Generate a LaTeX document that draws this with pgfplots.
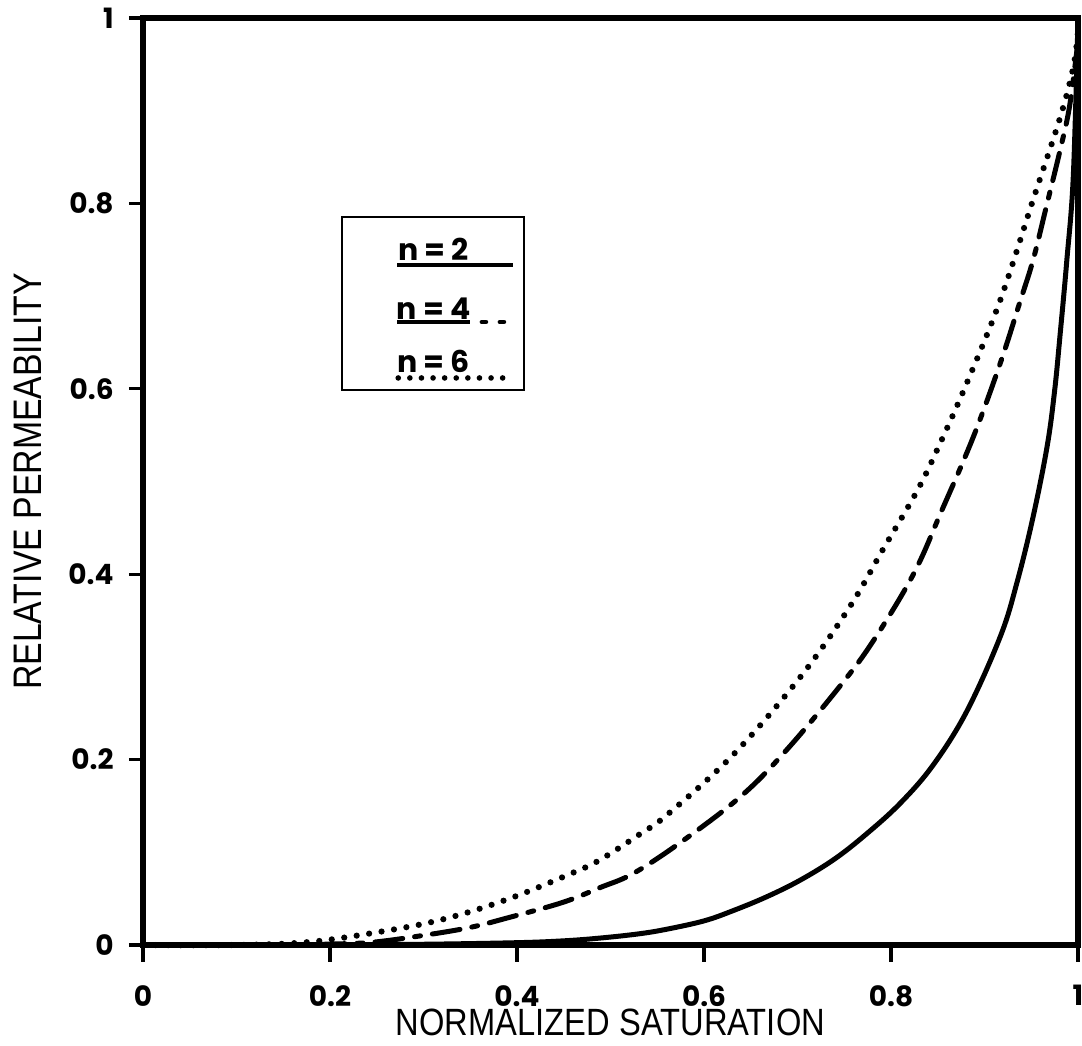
\documentclass[border=0pt]{standalone}
\usepackage{fontspec}
\setmainfont{Liberation Sans}
\newfontfamily\tickfont{Poppins}
\usepackage{pgfplots}
\pgfplotsset{compat=1.18}
\usetikzlibrary{calc}

\begin{document}
\begin{tikzpicture}
\begin{axis}[
  scale only axis, width=467.5pt, height=463.5pt,
  xmin=0, xmax=1, ymin=0, ymax=1,
  clip=false,
  xtick={0,0.2,0.4,0.6,0.8,1}, xticklabels={0,0.2,0.4,0.6,0.8,1},
  ytick={0,0.2,0.4,0.6,0.8,1}, yticklabels={0,0.2,0.4,0.6,0.8,1},
  tick align=outside, tick pos=left,
  major tick length=7pt,
  every major tick/.append style={line width=1.6pt, draw=black},
  axis line style={line width=3pt},
  /pgf/number format/assume math mode=true,
  tick label style={font=\tickfont\bfseries\fontsize{14}{14}\selectfont},
  xticklabel style={inner sep=0pt, anchor=north, yshift=-13pt},
  yticklabel style={inner sep=0pt, anchor=east, xshift=-7.5pt},
  every axis x label/.style={at={([yshift=-32pt]axis description cs:0.5,0)}, anchor=north, inner sep=0pt},
  every axis y label/.style={at={([xshift=-50.5pt]axis description cs:0,0.5)}, anchor=south, rotate=90, inner sep=0pt},
  xlabel={\fontsize{19}{19}\selectfont\scalebox{0.86}[1]{NORMALIZED SATURATION}},
  ylabel={\fontsize{19.9}{20}\selectfont\scalebox{0.85}[1]{RELATIVE PERMEABILITY}},
]
% n = 2
\addplot[black, line width=2.5pt, smooth, tension=0.6] coordinates {
(0,0)(0.1,0)(0.2,0.0002)(0.3,0.0008)(0.4,0.0025)(0.45,0.0045)(0.489,0.0075)(0.53,0.012)(0.56,0.017)(0.6,0.026)(0.631,0.037)(0.667,0.052)(0.703,0.070)(0.74,0.093)(0.774,0.120)(0.81,0.153)(0.845,0.194)(0.881,0.252)(0.917,0.333)(0.935,0.392)(0.952,0.462)(0.967,0.538)(0.975,0.598)(0.981,0.660)(0.988,0.738)(0.995,0.830)(1,1)
};
% n = 4
\addplot[black, line width=2.5pt, line cap=round, dash pattern=on 14pt off 6pt on 3pt off 6pt, smooth, tension=0.6] coordinates {
(0,0)(0.15,0)(0.2,0.001)(0.246,0.003)(0.304,0.011)(0.35,0.019)(0.389,0.029)(0.449,0.046)(0.489,0.062)(0.524,0.077)(0.574,0.110)(0.639,0.160)(0.688,0.210)(0.746,0.280)(0.781,0.328)(0.824,0.400)(0.854,0.468)(0.888,0.548)(0.917,0.628)(0.938,0.694)(0.952,0.739)(0.966,0.796)(0.981,0.858)(0.991,0.905)(1,0.975)
};
% n = 6
\addplot[black, line width=3.1pt, line cap=round, dash pattern=on 0pt off 6.3pt, smooth, tension=0.6] coordinates {
(0,0)(0.1,0)(0.175,0.003)(0.246,0.013)(0.318,0.027)(0.389,0.049)(0.46,0.078)(0.489,0.092)(0.532,0.120)(0.56,0.140)(0.631,0.205)(0.703,0.289)(0.756,0.365)(0.791,0.426)(0.828,0.49)(0.852,0.54)(0.881,0.606)(0.917,0.696)(0.952,0.804)(0.981,0.893)(0.995,0.947)(1,0.985)
};
% tick marks (outside, left and bottom)
\pgfplotsinvokeforeach{0,0.2,0.4,0.6,0.8,1}{
  \draw[line width=1.6pt] (axis cs:#1,0) -- ++(0,-8.5pt);
  \draw[line width=1.6pt] (axis cs:0,#1) -- ++(-6.5pt,0);
}
% legend box
\draw[line width=1.3pt] (axis cs:0.2128,0.5987) rectangle (axis cs:0.4075,0.7853);
\node[font=\tickfont\bfseries\fontsize{15}{15}\selectfont, inner sep=0pt] at (axis cs:0.3107,0.7508) {n = 2};
\draw[line width=2.3pt] (axis cs:0.2717,0.7335) -- (axis cs:0.3957,0.7335);
\node[font=\tickfont\bfseries\fontsize{15}{15}\selectfont, inner sep=0pt] at (axis cs:0.3107,0.6866) {n = 4};
\draw[line width=2.3pt] (axis cs:0.2717,0.6721) -- (axis cs:0.3497,0.6721);
\draw[line width=2.3pt, line cap=round, dash pattern=on 2pt off 7pt] (axis cs:0.3625,0.6721) -- (axis cs:0.3870,0.6721);
\node[font=\tickfont\bfseries\fontsize{15}{15}\selectfont, inner sep=0pt] at (axis cs:0.3107,0.6294) {n = 6};
\draw[line width=2.8pt, line cap=round, dash pattern=on 0pt off 5.8pt] (axis cs:0.2730,0.6117) -- (axis cs:0.3872,0.6117);
\coordinate (ll) at (rel axis cs:0,0);
\end{axis}
\pgfresetboundingbox
\path (ll) ++(-71.5pt,-50pt) rectangle ++(541pt,522.5pt);
\end{tikzpicture}
\end{document}
